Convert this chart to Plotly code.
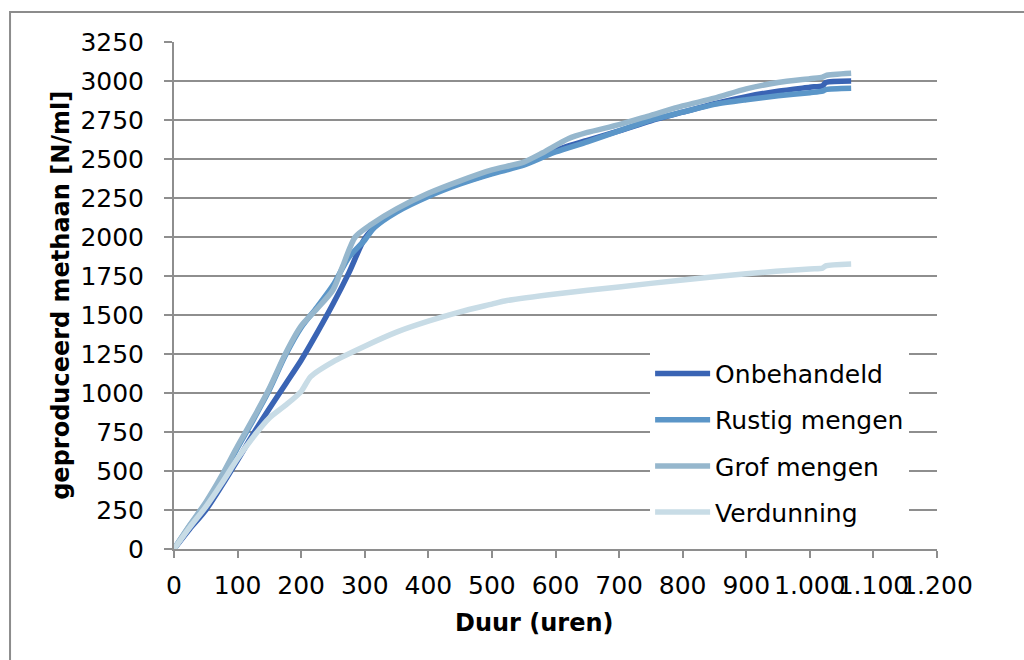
import plotly.graph_objects as go

# ---- data ----
x_onbehandeld = [0, 25, 50, 75, 100, 125, 150, 175, 200, 225, 250, 275, 300, 325, 350, 400, 450, 500, 550, 600,
                 650, 700, 750, 800, 850, 900, 950, 1000, 1020, 1025, 1065]
y_onbehandeld = [0, 130, 250, 405, 570, 740, 900, 1055, 1210, 1385, 1570, 1770, 1990, 2100, 2170, 2270, 2345, 2410,
                 2470, 2555, 2620, 2680, 2745, 2800, 2855, 2900, 2935, 2960, 2970, 2990, 3000]

x_rustig = [0, 25, 50, 75, 100, 125, 150, 175, 200, 225, 250, 275, 300, 315, 350, 400, 450, 500, 550, 600,
            650, 700, 750, 800, 850, 900, 950, 1000, 1020, 1025, 1065]
y_rustig = [0, 150, 290, 460, 650, 830, 1020, 1240, 1420, 1550, 1690, 1870, 1980, 2060, 2160, 2260, 2340, 2405,
            2460, 2545, 2610, 2680, 2750, 2800, 2850, 2880, 2905, 2925, 2935, 2945, 2953]

x_grof = [0, 25, 50, 75, 100, 125, 150, 175, 200, 225, 250, 265, 285, 310, 350, 400, 450, 500, 550, 580, 620,
          650, 700, 750, 800, 850, 900, 950, 1000, 1020, 1025, 1065]
y_grof = [0, 155, 300, 470, 660, 840, 1030, 1250, 1430, 1540, 1660, 1810, 2000, 2080, 2180, 2280, 2360, 2430,
          2480, 2540, 2630, 2670, 2720, 2780, 2840, 2890, 2950, 2990, 3015, 3025, 3035, 3049]

x_verdunning = [0, 25, 50, 75, 100, 125, 150, 175, 200, 215, 250, 300, 350, 400, 450, 500, 520, 600, 700, 800,
                900, 1000, 1020, 1025, 1065]
y_verdunning = [0, 140, 270, 420, 580, 720, 840, 920, 1010, 1105, 1200, 1300, 1390, 1460, 1520, 1570, 1590, 1635,
                1680, 1725, 1765, 1795, 1800, 1815, 1827]

series_names = ["Onbehandeld", "Rustig mengen", "Grof mengen", "Verdunning"]
series_colors = ["#3A64B4", "#5B96C8", "#96B7CD", "#C8DCE6"]

x_tickvals = [0, 100, 200, 300, 400, 500, 600, 700, 800, 900, 1000, 1100, 1200]
x_ticktext = ["0", "100", "200", "300", "400", "500", "600", "700", "800", "900", "1.000", "1.100", "1.200"]
y_tickvals = list(range(0, 3251, 250))

x_title = "Duur (uren)"
y_title = "geproduceerd methaan [N/ml]"

# ---- figure ----
FONT = "DejaVu Sans, Verdana, sans-serif"
GRID = "#8E8E8E"

fig = go.Figure()
all_x = [x_onbehandeld, x_rustig, x_grof, x_verdunning]
all_y = [y_onbehandeld, y_rustig, y_grof, y_verdunning]
for name, color, xs, ys in zip(series_names, series_colors, all_x, all_y):
    fig.add_trace(go.Scatter(
        x=xs, y=ys, name=name, mode="lines", legendgroup=name,
        line=dict(color=color, width=5.5, shape="spline", smoothing=0.7),
    ))

fig.update_layout(
    width=1024, height=660,
    margin=dict(l=174, r=87, t=42, b=111),
    paper_bgcolor="white", plot_bgcolor="white",
    font=dict(family=FONT, size=25, color="#000000"),
    showlegend=True,
    legend=dict(
        x=0.624, y=0.391, xanchor="left", yanchor="top",
        bgcolor="white", borderwidth=0,
        font=dict(family=FONT, size=25, color="#000000"),
        tracegroupgap=10.7, itemwidth=55,
    ),
    xaxis=dict(
        range=[0, 1200], tickvals=x_tickvals, ticktext=x_ticktext, tickangle=0,
        showgrid=False, zeroline=False,
        showline=True, linecolor=GRID, linewidth=2,
        ticks="outside", ticklen=7, tickcolor=GRID, tickwidth=2,
        tickfont=dict(family=FONT, size=25, color="#000000"),
        ticklabelstandoff=6,
    ),
    yaxis=dict(
        range=[0, 3250], tickvals=y_tickvals,
        showgrid=True, gridcolor=GRID, gridwidth=2, zeroline=False,
        showline=True, linecolor=GRID, linewidth=2,
        ticks="outside", ticklen=8, tickcolor=GRID, tickwidth=2,
        tickfont=dict(family=FONT, size=25, color="#000000"),
        ticklabelstandoff=15,
    ),
    annotations=[
        dict(text="<b>" + x_title + "</b>", xref="paper", yref="paper", x=0.473, y=-0.146,
             xanchor="center", yanchor="middle", showarrow=False,
             font=dict(family=FONT, size=24, color="#000000")),
        dict(text="<b>" + y_title + "</b>", xref="paper", yref="paper", x=-0.149, y=0.5,
             xanchor="center", yanchor="middle", showarrow=False, textangle=-90,
             font=dict(family=FONT, size=24, color="#000000")),
    ],
    shapes=[
        dict(type="rect", xref="paper", yref="paper", x0=-0.2149, x1=1.2, y0=-0.3, y1=1.0592,
             line=dict(color="#8C8C8C", width=2), fillcolor="rgba(0,0,0,0)", layer="below"),
    ],
)

fig.write_html("out.html")
